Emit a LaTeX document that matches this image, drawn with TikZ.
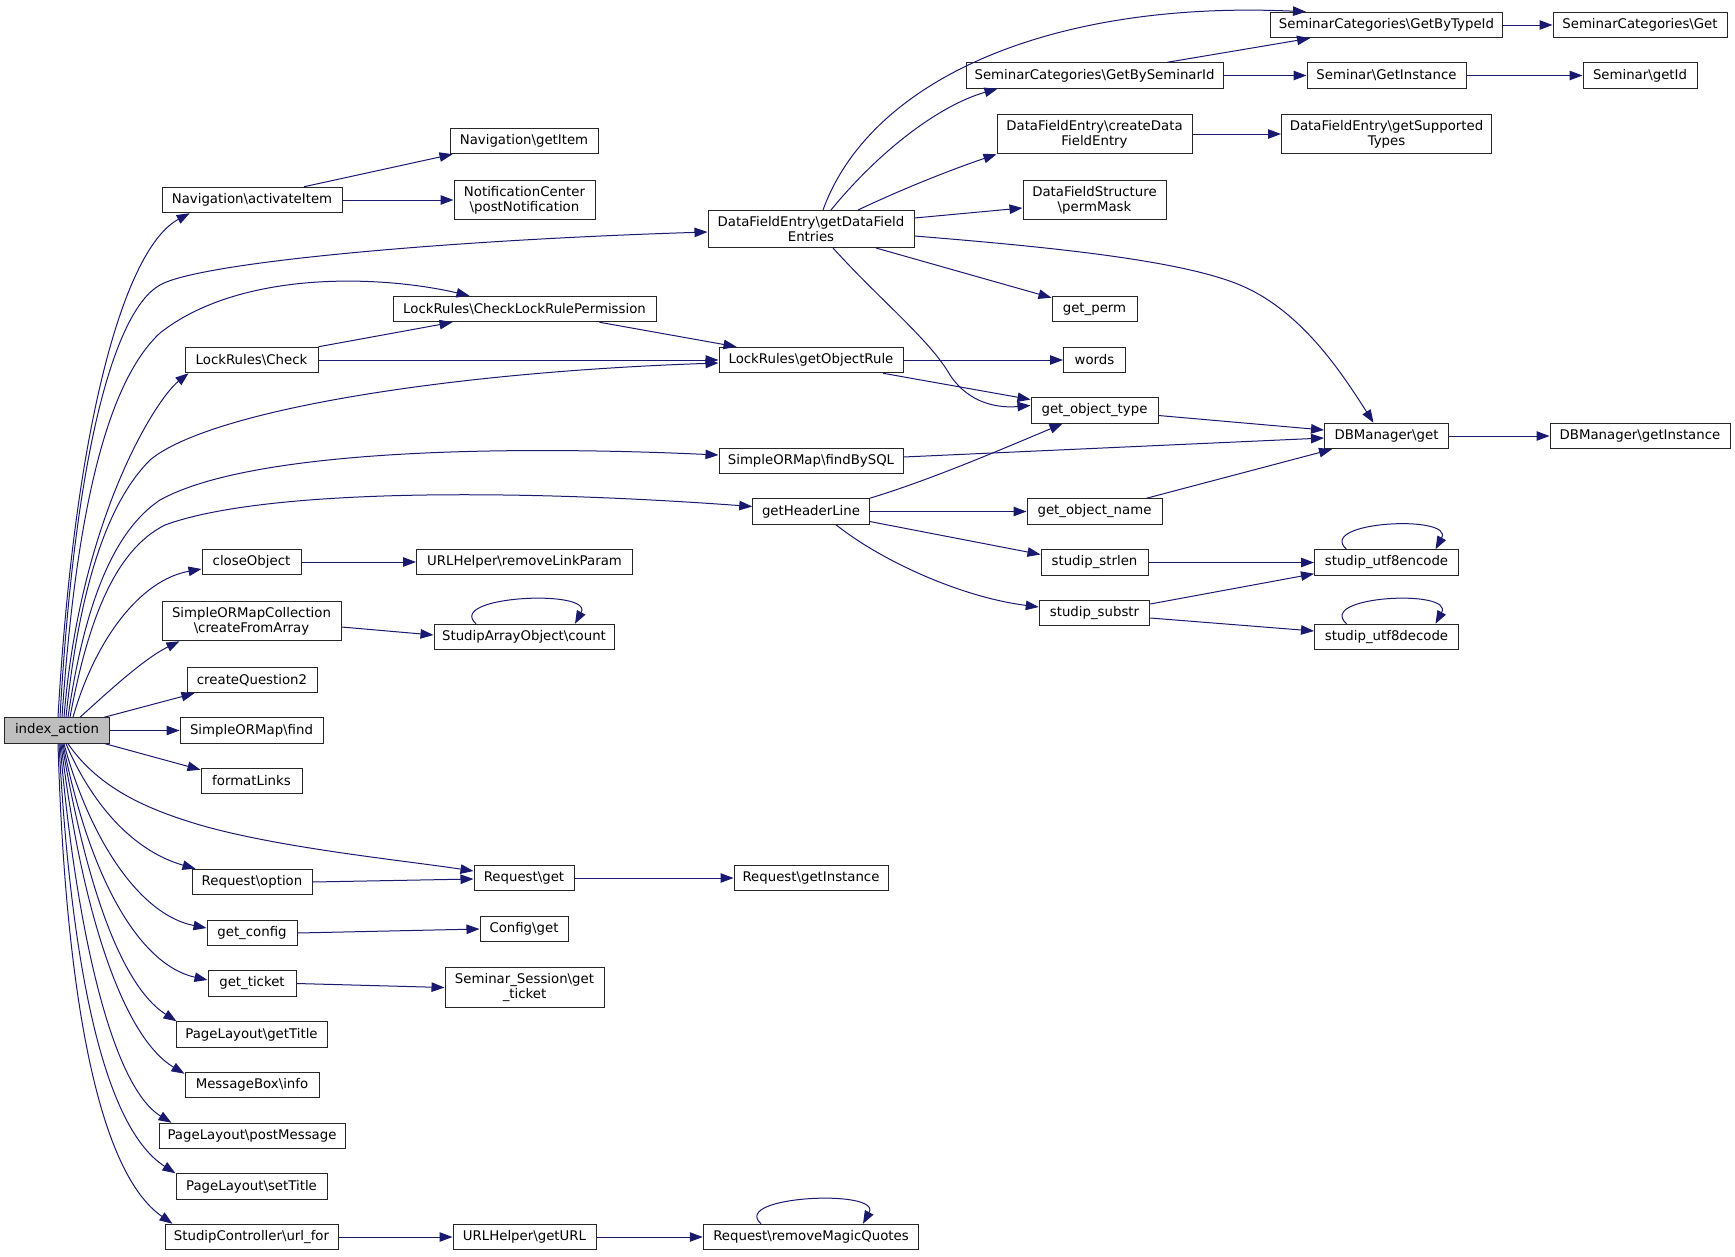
\documentclass[tikz,border=0pt]{standalone}
\usepackage{fontspec}
\setmainfont{DejaVu Sans}
\usepackage{xcolor}
\usepackage{tikz}
\usetikzlibrary{arrows.meta}
\definecolor{edgeblue}{RGB}{25,25,112}
\definecolor{boxgray}{RGB}{191,191,191}
\newcommand{\bsl}{\textbackslash}
\tikzset{
  fnbox/.style={draw=black!85, line width=1pt, rectangle, inner xsep=2pt, inner ysep=6pt,
    minimum height=25.5pt, align=center, font=\fontsize{13.3}{14.7}\selectfont},
  calls/.style={draw=edgeblue, line width=1pt, -{Triangle[length=13pt,width=9.5pt]}},
}

\begin{document}
\begin{tikzpicture}[x=1pt,y=-1pt]
        \useasboundingbox (0,0) rectangle (1735,1256);
        \node[fnbox, fill=boxgray, minimum width=105.5pt] (ia) at (57,730.5) {index\_action};
        \node[fnbox, minimum width=180pt] (act) at (252,200) {Navigation\bsl activateItem};
        \node[fnbox, minimum width=148pt] (getitem) at (524,141) {Navigation\bsl getItem};
        \node[fnbox, minimum width=141pt] (postnot) at (524.5,200) {NotificationCenter\\\bsl postNotification};
        \node[fnbox, minimum width=206pt] (dfe) at (811,229) {DataFieldEntry\bsl getDataField\\Entries};
        \node[fnbox, minimum width=263pt] (clrp) at (524.5,309) {LockRules\bsl CheckLockRulePermission};
        \node[fnbox, minimum width=133pt] (lrcheck) at (251.5,360) {LockRules\bsl Check};
        \node[fnbox, minimum width=184pt] (objrule) at (811,360) {LockRules\bsl getObjectRule};
        \node[fnbox, minimum width=184pt] (findsql) at (811,461) {SimpleORMap\bsl findBySQL};
        \node[fnbox, minimum width=116.5pt] (header) at (811,511.5) {getHeaderLine};
        \node[fnbox, minimum width=99pt] (close) at (251.5,562) {closeObject};
        \node[fnbox, minimum width=216pt] (rmlink) at (524.5,562) {URLHelper\bsl removeLinkParam};
        \node[fnbox, minimum width=179pt] (fromarr) at (251.5,621) {SimpleORMapCollection\\\bsl createFromArray};
        \node[fnbox, minimum width=180pt] (count) at (524,637) {StudipArrayObject\bsl count};
        \node[fnbox, minimum width=130pt] (q2) at (252,680) {createQuestion2};
        \node[fnbox, minimum width=143pt] (find) at (251.5,730.5) {SimpleORMap\bsl find};
        \node[fnbox, minimum width=101pt] (links) at (251.5,781) {formatLinks};
        \node[fnbox, minimum width=120pt] (option) at (252,882) {Request\bsl option};
        \node[fnbox, minimum width=100pt] (rget) at (524,878) {Request\bsl get};
        \node[fnbox, minimum width=154pt] (rinst) at (811,878) {Request\bsl getInstance};
        \node[fnbox, minimum width=90pt] (config) at (252,933) {get\_config};
        \node[fnbox, minimum width=88pt] (cfgget) at (524,929) {Config\bsl get};
        \node[fnbox, minimum width=88pt] (ticket) at (252,983.5) {get\_ticket};
        \node[fnbox, minimum width=159pt] (sessticket) at (524.5,987.5) {Seminar\_Session\bsl get\\\_ticket};
        \node[fnbox, minimum width=151pt] (gettitle) at (251.5,1034.5) {PageLayout\bsl getTitle};
        \node[fnbox, minimum width=134pt] (info) at (252,1085) {MessageBox\bsl info};
        \node[fnbox, minimum width=186pt] (postmsg) at (252,1136) {PageLayout\bsl postMessage};
        \node[fnbox, minimum width=151pt] (settitle) at (251.5,1186.5) {PageLayout\bsl setTitle};
        \node[fnbox, minimum width=173pt] (urlfor) at (251.5,1237) {StudipController\bsl url\_for};
        \node[fnbox, minimum width=143pt] (geturl) at (524.5,1237) {URLHelper\bsl getURL};
        \node[fnbox, minimum width=215.5pt] (magic) at (811,1237) {Request\bsl removeMagicQuotes};
        \node[fnbox, minimum width=257pt] (bysem) at (1094.5,75.5) {SeminarCategories\bsl GetBySeminarId};
        \node[fnbox, minimum width=195pt] (createdfe) at (1094.5,134) {DataFieldEntry\bsl createData\\FieldEntry};
        \node[fnbox, minimum width=143pt] (permmask) at (1094.5,200) {DataFieldStructure\\\bsl permMask};
        \node[fnbox, minimum width=85pt] (perm) at (1094.5,309) {get\_perm};
        \node[fnbox, minimum width=62pt] (words) at (1094.5,360) {words};
        \node[fnbox, minimum width=127pt] (objtype) at (1094.5,410.5) {get\_object\_type};
        \node[fnbox, minimum width=135pt] (objname) at (1094.5,511.5) {get\_object\_name};
        \node[fnbox, minimum width=107pt] (strlen) at (1094.5,562.5) {studip\_strlen};
        \node[fnbox, minimum width=110.5pt] (substr) at (1094.5,613) {studip\_substr};
        \node[fnbox, minimum width=232pt] (bytype) at (1386.5,25) {SeminarCategories\bsl GetByTypeId};
        \node[fnbox, minimum width=159pt] (seminst) at (1386.5,75.5) {Seminar\bsl GetInstance};
        \node[fnbox, minimum width=210pt] (types) at (1386.5,134) {DataFieldEntry\bsl getSupported\\Types};
        \node[fnbox, minimum width=124pt] (dbget) at (1386.5,436) {DBManager\bsl get};
        \node[fnbox, minimum width=144pt] (encode) at (1386.5,562.5) {studip\_utf8encode};
        \node[fnbox, minimum width=144pt] (decode) at (1386.5,637) {studip\_utf8decode};
        \node[fnbox, minimum width=174pt] (catget) at (1640,25) {SeminarCategories\bsl Get};
        \node[fnbox, minimum width=114pt] (semid) at (1640,75.5) {Seminar\bsl getId};
        \node[fnbox, minimum width=180pt] (dbinst) at (1640,436) {DBManager\bsl getInstance};

        \draw[calls] ([xshift=1pt]ia.north) .. controls (75,420) and (125,248) .. (act.192);
        \draw[calls] ([xshift=3pt]ia.north) .. controls (75,450) and (115,310) .. (160,285) .. controls (200,262) and (450,240) .. ([yshift=-3pt]dfe.west);
        \draw[calls] ([xshift=5pt]ia.north) .. controls (78,480) and (115,375) .. (160,333) .. controls (240,270) and (380,275) .. ([xshift=77pt]clrp.north west);
        \draw[calls] ([xshift=7pt]ia.north) .. controls (80,520) and (155,400) .. ([xshift=4pt]lrcheck.south west);
        \draw[calls] ([xshift=9pt]ia.north) .. controls (80,580) and (110,500) .. (150,460) .. controls (210,410) and (450,372) .. ([yshift=-3pt]objrule.west);
        \draw[calls] ([xshift=11pt]ia.north) .. controls (85,600) and (115,530) .. (160,500) .. controls (250,450) and (500,445) .. ([yshift=6pt]findsql.west);
        \draw[calls] ([xshift=13pt]ia.north) .. controls (88,620) and (115,550) .. (165,525) .. controls (260,490) and (500,488) .. ([yshift=5pt]header.west);
        \draw[calls] ([xshift=16pt]ia.north) .. controls (95,640) and (140,580) .. ([yshift=-7pt]close.west);
        \draw[calls] ([xshift=23pt]ia.north) .. controls (110,690) and (145,658) .. ([xshift=18pt]fromarr.south west);
        \draw[calls] ([xshift=-6pt]ia.north east) -- ([xshift=8pt]q2.south west);
        \draw[calls] (ia) -- (find);
        \draw[calls] ([xshift=-5pt]ia.south east) -- ([yshift=-2pt]links.north west);
        \draw[calls] ([xshift=11pt]ia.south) .. controls (100,790) and (150,810) .. (200,825) .. controls (280,848) and (400,860) .. ([yshift=7pt]rget.west);
        \draw[calls] ([xshift=9pt]ia.south) .. controls (90,800) and (130,850) .. ([xshift=4pt]option.north west);
        \draw[calls] ([xshift=7pt]ia.south) .. controls (90,840) and (140,915) .. ([yshift=5pt]config.west);
        \draw[calls] ([xshift=6pt]ia.south) .. controls (90,880) and (140,965) .. ([yshift=3.5pt]ticket.west);
        \draw[calls] ([xshift=5pt]ia.south) .. controls (85,880) and (120,985) .. ([xshift=1pt]gettitle.north west);
        \draw[calls] ([xshift=4pt]ia.south) .. controls (80,900) and (120,1035) .. ([yshift=-2pt]info.north west);
        \draw[calls] ([xshift=3pt]ia.south) .. controls (75,920) and (110,1085) .. ([xshift=13pt]postmsg.north west);
        \draw[calls] ([xshift=2pt]ia.south) .. controls (70,950) and (100,1125) .. (settitle.north west);
        \draw[calls] ([xshift=1pt]ia.south) .. controls (65,980) and (95,1170) .. ([xshift=8pt]urlfor.north west);

        \draw[calls] ([xshift=52pt]act.north) -- ([xshift=3pt]getitem.south west);
        \draw[calls] (act) -- (postnot);
        \draw[calls] ([xshift=12pt]dfe.north) .. controls (870,80) and (1050,0) .. ([xshift=36pt]bytype.north west);
        \draw[calls] ([xshift=20pt]dfe.north) .. controls (880,150) and (940,105) .. ([xshift=32pt]bysem.south west);
        \draw[calls] ([xshift=47pt]dfe.north) .. controls (900,190) and (950,170) .. (createdfe.south west);
        \draw[calls] ([yshift=11pt]dfe.east) -- ([yshift=-8pt]permmask.west);
        \draw[calls] ([yshift=-7pt]dfe.east) .. controls (1050,247) and (1180,260) .. (1240,285) .. controls (1300,310) and (1340,370) .. ([xshift=-13pt]dbget.north);
        \draw[calls] ([xshift=65pt]dfe.south) -- ([yshift=-2pt]perm.north west);
        \draw[calls] ([xshift=22pt]dfe.south) .. controls (880,300) and (930,340) .. (950,375) .. controls (970,405) and (1000,408) .. ([yshift=5pt]objtype.west);
        \draw[calls] ([xshift=73pt]bysem.north) -- ([xshift=40pt]bytype.south west);
        \draw[calls] (bysem) -- (seminst);
        \draw[calls] (bytype) -- (catget);
        \draw[calls] (seminst) -- (semid);
        \draw[calls] (createdfe) -- (types);
        \draw[calls] ([xshift=75pt]clrp.south) -- ([xshift=18pt]objrule.north west);
        \draw[calls] (lrcheck.north east) -- ([xshift=60pt]clrp.south west);
        \draw[calls] (lrcheck) -- (objrule);
        \draw[calls] (objrule) -- (words);
        \draw[calls] ([xshift=72pt]objrule.south) -- ([yshift=11pt]objtype.west);
        \draw[calls] ([yshift=-5pt]objtype.east) -- ([yshift=6pt]dbget.west);
        \draw[calls] ([yshift=4pt]findsql.east) -- ([yshift=-2pt]dbget.west);
        \draw[calls] ([xshift=52pt]objname.north) -- ([xshift=8pt]dbget.south west);
        \draw[calls] (dbget) -- (dbinst);
        \draw[calls] (header.north east) .. controls (930,480) and (1000,450) .. ([xshift=-32pt]objtype.south);
        \draw[calls] (header) -- (objname);
        \draw[calls] ([yshift=-10pt]header.east) -- ([yshift=8pt]strlen.west);
        \draw[calls] ([xshift=25pt]header.south) .. controls (880,560) and (960,597) .. ([yshift=6pt]substr.west);
        \draw[calls] (strlen) -- (encode);
        \draw[calls] ([yshift=9pt]substr.east) -- ([yshift=2pt]encode.south west);
        \draw[calls] ([yshift=-5pt]substr.east) -- ([yshift=6pt]decode.west);
        \draw[calls] ([xshift=-40pt]encode.north) .. controls +(-31,-28) and +(19,-35) .. ([xshift=49pt]encode.north);
        \draw[calls] ([xshift=-40pt]decode.north) .. controls +(-31,-28) and +(19,-35) .. ([xshift=49pt]decode.north);
        \draw[calls] ([xshift=-48pt]count.north) .. controls +(-31,-28) and +(19,-35) .. ([xshift=51pt]count.north);
        \draw[calls] ([xshift=-50pt]magic.north) .. controls +(-31,-28) and +(19,-35) .. ([xshift=52pt]magic.north);
        \draw[calls] (close) -- (rmlink);
        \draw[calls] ([yshift=-6pt]fromarr.east) -- ([yshift=2pt]count.west);
        \draw[calls] (option.east) -- ([yshift=-1pt]rget.west);
        \draw[calls] (rget) -- (rinst);
        \draw[calls] (config.east) -- (cfgget.west);
        \draw[calls] (ticket.east) -- (sessticket.west);
        \draw[calls] (urlfor) -- (geturl);
        \draw[calls] (geturl) -- (magic);
\end{tikzpicture}
\end{document}
